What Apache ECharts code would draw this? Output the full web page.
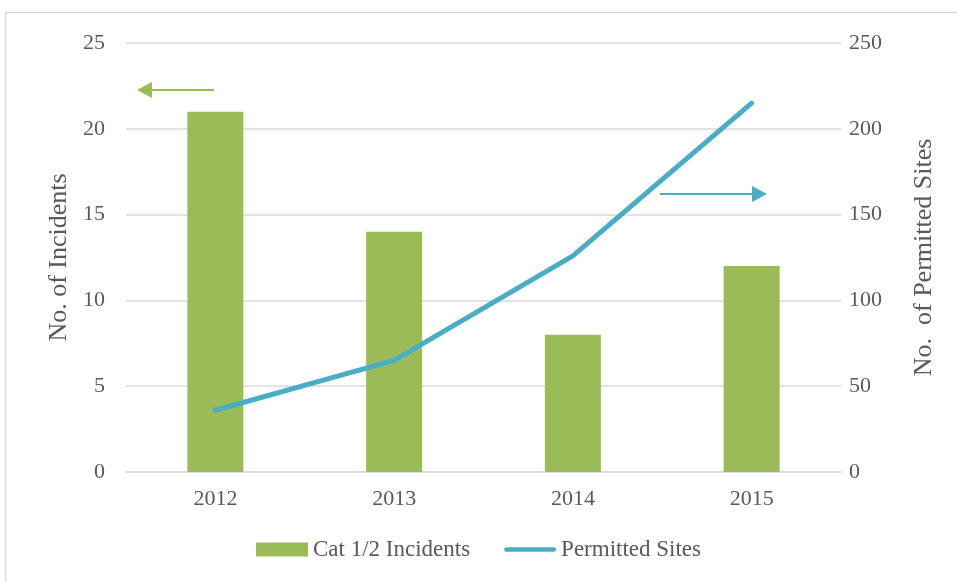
<!DOCTYPE html>
<html>
<head>
<meta charset="utf-8">
<script src="https://cdn.jsdelivr.net/npm/echarts@6/dist/echarts.min.js"></script>
<style>
  html, body { margin: 0; padding: 0; background: #fff; }
  #chart { width: 957px; height: 582px; }
</style>
</head>
<body>
<div id="chart"></div>
<script>
const years = ['2012', '2013', '2014', '2015']
const incidents = [21, 14, 8, 12]
const permittedSites = [36, 65, 126, 215]

const textColor = '#595959'
const gridColor = '#d9d9d9'
const barColor = '#9bbb59'
const lineColor = '#4bacc6'
const font = '"Liberation Serif", "DejaVu Serif", serif'

const chart = echarts.init(document.getElementById('chart'))

const option = {
  animation: false,
  textStyle: { fontFamily: font },
  grid: { left: 126, right: 116, top: 43, bottom: 110 },
  legend: {
    bottom: 16,
    left: 'center',
    itemGap: 34,
    itemWidth: 52,
    itemHeight: 14,
    textStyle: { fontFamily: font, fontSize: 23, color: textColor },
    data: [
      { name: 'Cat 1/2 Incidents', icon: 'rect' },
      {
        name: 'Permitted Sites',
        icon: 'path://M2.5,0 L54.5,0 A2.5,2.5 0 0 1 54.5,5 L2.5,5 A2.5,2.5 0 0 1 2.5,0 Z'
      }
    ]
  },
  xAxis: {
    type: 'category',
    data: years,
    axisLine: { lineStyle: { color: gridColor, width: 1.5 } },
    axisTick: { show: false },
    axisLabel: { color: textColor, fontSize: 22, fontFamily: font, margin: 16 }
  },
  yAxis: [
    {
      type: 'value',
      min: 0,
      max: 25,
      interval: 5,
      name: 'No. of Incidents',
      nameLocation: 'middle',
      nameGap: 51,
      nameTextStyle: { color: textColor, fontSize: 26, fontFamily: font },
      axisLine: { show: false },
      axisTick: { show: false },
      axisLabel: { color: textColor, fontSize: 22, fontFamily: font, margin: 21 },
      splitLine: { lineStyle: { color: gridColor, width: 1.5 } }
    },
    {
      type: 'value',
      min: 0,
      max: 250,
      interval: 50,
      name: 'No.  of Permitted Sites',
      nameLocation: 'middle',
      nameGap: 70,
      nameRotate: 90,
      nameTextStyle: { color: textColor, fontSize: 26, fontFamily: font },
      axisLine: { show: false },
      axisTick: { show: false },
      axisLabel: { color: textColor, fontSize: 22, fontFamily: font, margin: 8 },
      splitLine: { show: false }
    }
  ],
  series: [
    {
      name: 'Cat 1/2 Incidents',
      type: 'bar',
      data: incidents,
      barWidth: 56,
      itemStyle: { color: barColor }
    },
    {
      name: 'Permitted Sites',
      type: 'line',
      yAxisIndex: 1,
      data: permittedSites,
      symbol: 'none',
      lineStyle: { color: lineColor, width: 5, cap: 'round', join: 'round' },
      itemStyle: { color: lineColor }
    }
  ],
  graphic: [
    {
      type: 'rect',
      shape: { x: 5.5, y: 12.5, width: 1000, height: 1000 },
      style: { fill: 'none', stroke: '#d9d9d9', lineWidth: 1.5 },
      silent: true
    },
    // left arrow pointing to left axis
    {
      type: 'line',
      shape: { x1: 150, y1: 90, x2: 214, y2: 90 },
      style: { stroke: barColor, lineWidth: 2 }
    },
    {
      type: 'polygon',
      shape: { points: [[137, 90], [152, 82], [152, 98]] },
      style: { fill: barColor }
    },
    // right arrow pointing to right axis
    {
      type: 'line',
      shape: { x1: 660, y1: 194, x2: 754, y2: 194 },
      style: { stroke: lineColor, lineWidth: 2 }
    },
    {
      type: 'polygon',
      shape: { points: [[767, 194], [752, 186], [752, 202]] },
      style: { fill: lineColor }
    }
  ]
}

chart.setOption(option)
</script>
</body>
</html>
